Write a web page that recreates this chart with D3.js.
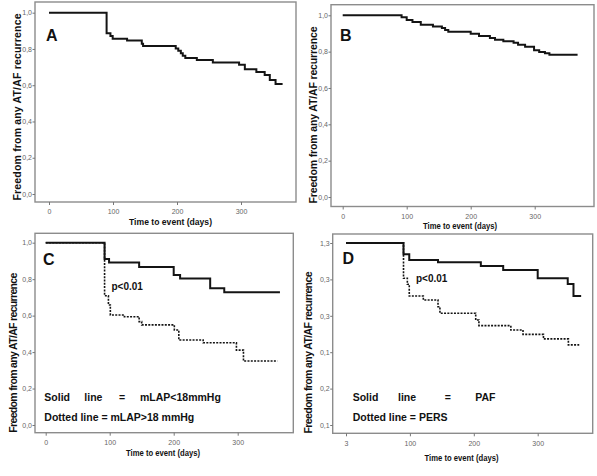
<!DOCTYPE html>
<html><head><meta charset="utf-8">
<script src="https://cdn.jsdelivr.net/npm/d3@7"></script>
<style>body{margin:0;background:#fff}svg{display:block}</style>
</head><body>
<svg id="c" width="597" height="476"></svg>
<script>
// ---- data ----
const yTickValues = [0, 0.2, 0.4, 0.6, 0.8, 1.0];
const yTickLabels = ["0,0", "0,2", "0,4", "0,6", "0,8", "1,0"];
const xTickValues = [0, 100, 200, 300];
const xTickLabels = ["0", "100", "200", "300"];
const dYTickLabels = ["0,1", "0,2", "0,1", "0,3", "0,3", "1,3"];
const dXTickLabels = ["3", "100", "200", "300"];

const aTimes = [0, 90, 96, 99.5, 122, 145, 147, 198, 202, 206, 209, 213, 231, 256, 297, 306, 324, 337, 345, 354, 365];
const aSurv  = [1, 0.886, 0.871, 0.857, 0.846, 0.829, 0.816, 0.803, 0.790, 0.777, 0.763, 0.750, 0.739, 0.726, 0.713, 0.688, 0.673, 0.656, 0.629, 0.607, 0.607];

const bTimes = [0, 92, 100, 109, 122, 141, 155, 160, 165, 200, 213, 230, 238, 251, 267, 274, 285, 299, 307, 316, 323, 367];
const bSurv  = [1, 0.989, 0.974, 0.963, 0.948, 0.939, 0.930, 0.919, 0.910, 0.899, 0.886, 0.875, 0.866, 0.857, 0.849, 0.838, 0.827, 0.807, 0.798, 0.791, 0.783, 0.783];

const cSolidTimes = [0, 92, 99, 146, 200, 210, 257, 279, 366];
const cSolidSurv  = [1, 0.911, 0.892, 0.867, 0.823, 0.803, 0.750, 0.728, 0.728];
const cDotTimes = [0, 92, 98, 101, 123, 146, 150, 201, 208, 246, 298, 309, 362];
const cDotSurv  = [1, 0.709, 0.658, 0.603, 0.594, 0.567, 0.549, 0.521, 0.466, 0.451, 0.411, 0.351, 0.351];

const dSolidTimes = [0, 90, 99, 144, 211, 246, 300, 347, 356, 368];
const dSolidSurv  = [1, 0.938, 0.907, 0.894, 0.874, 0.852, 0.806, 0.775, 0.709, 0.709];
const dDotTimes = [0, 90, 96, 99, 121, 144, 147, 203, 208, 258, 277, 309, 348, 365];
const dDotSurv  = [1, 0.806, 0.773, 0.709, 0.687, 0.650, 0.614, 0.577, 0.546, 0.522, 0.498, 0.473, 0.440, 0.440];

const yTitle = "Freedom from any AT/AF recurrence";
const xTitle = "Time to event (days)";

// ---- drawing ----
const svg = d3.select("#c");
const FONT = "'Liberation Sans', Arial, sans-serif";

function panel(p) {
  const g = svg.append("g");
  const x = d3.scaleLinear().domain([0, 300]).range([p.x0, p.x300]);
  const y = d3.scaleLinear().domain([0, 1]).range([p.y0, p.y1]);

  g.append("rect").attr("x", p.fl).attr("y", p.ft)
    .attr("width", p.fr - p.fl).attr("height", p.fb - p.ft)
    .attr("fill", "#fff").attr("stroke", "#8c8c8c").attr("stroke-width", 1.4);

  const yl = p.yLabels || yTickLabels;
  const ya = g.append("g").attr("transform", `translate(${p.fl},0)`)
    .call(d3.axisLeft(y).tickValues(yTickValues).tickSize(2.5).tickPadding(0.5)
      .tickFormat((d, i) => yl[i]));
  const xl = p.xLabels || xTickLabels;
  const xa = g.append("g").attr("transform", `translate(0,${p.fb})`)
    .call(d3.axisBottom(x).tickValues(xTickValues).tickSize(3).tickPadding(4.5)
      .tickFormat((d, i) => xl[i]));
  [ya, xa].forEach(a => {
    a.select(".domain").remove();
    a.selectAll("line").attr("stroke", "#777");
    a.selectAll("text").attr("fill", "#666").style("font", `7px ${FONT}`);
  });

  const line = d3.line().x(d => x(d[0])).y(d => y(d[1])).curve(d3.curveStepAfter);
  p.series.forEach(s => {
    g.append("path").datum(d3.zip(s.t, s.v)).attr("d", line)
      .attr("fill", "none").attr("stroke", "#141414")
      .attr("stroke-width", s.dot ? 1.6 : 2)
      .attr("stroke-dasharray", s.dot ? "2,1.3" : null);
  });

  g.append("text").attr("x", p.lx).attr("y", p.ly).text(p.letter)
    .style("font", `bold 16px ${FONT}`).attr("fill", "#111");

  g.append("text").attr("transform", `translate(${p.ytx},${p.yty}) rotate(-90)`)
    .attr("text-anchor", "middle").attr("textLength", p.ytl).attr("lengthAdjust", "spacing")
    .style("font", `bold 10.5px ${FONT}`).attr("fill", "#111").text(yTitle);

  g.append("text").attr("x", p.xtx).attr("y", p.xty).attr("text-anchor", "middle")
    .attr("textLength", p.xtl).attr("lengthAdjust", "spacingAndGlyphs")
    .style("font", `bold 9.5px ${FONT}`).attr("fill", "#111").text(xTitle);

  (p.texts || []).forEach(t => {
    g.append("text").attr("x", t.x).attr("y", t.y).text(t.s)
      .style("font", `bold ${t.fs || 10.5}px ${FONT}`).attr("fill", "#111");
  });
}

panel({
  fl: 35, fr: 296, ft: 2, fb: 202, x0: 49, x300: 241, y0: 194, y1: 12.7,
  series: [{ t: aTimes, v: aSurv }], letter: "A", lx: 46, ly: 41,
  ytx: 20.5, yty: 107, ytl: 187, xtx: 170.5, xty: 225, xtl: 83
});
panel({
  fl: 331, fr: 594, ft: 4.7, fb: 206.5, x0: 342.7, x300: 534.7, y0: 197, y1: 15.3,
  series: [{ t: bTimes, v: bSurv }], letter: "B", lx: 340, ly: 41,
  ytx: 316.5, yty: 115, ytl: 177, xtx: 460, xty: 228.5, xtl: 74
});
panel({
  fl: 35, fr: 293.3, ft: 233.3, fb: 432.7, x0: 45.7, x300: 237.7, y0: 425, y1: 242.7,
  series: [{ t: cSolidTimes, v: cSolidSurv }, { t: cDotTimes, v: cDotSurv, dot: true }],
  letter: "C", lx: 43, ly: 265,
  ytx: 17.3, yty: 352.7, ytl: 160, xtx: 163, xty: 455.5, xtl: 74,
  texts: [
    { x: 111.5, y: 289.5, s: "p<0.01", fs: 10 },
    { x: 44.3, y: 401, s: "Solid" }, { x: 84.3, y: 401, s: "line" },
    { x: 119, y: 401, s: "=" }, { x: 140, y: 401, s: "mLAP<18mmHg" },
    { x: 44.3, y: 420.5, s: "Dotted line = mLAP>18 mmHg" }
  ]
});
panel({
  fl: 332.7, fr: 592.7, ft: 234, fb: 433.3, x0: 346, x300: 537.7, y0: 425, y1: 243,
  series: [{ t: dSolidTimes, v: dSolidSurv }, { t: dDotTimes, v: dDotSurv, dot: true }],
  letter: "D", lx: 342.5, ly: 264, yLabels: dYTickLabels, xLabels: dXTickLabels,
  ytx: 312, yty: 352.5, ytl: 162, xtx: 461.5, xty: 460.5, xtl: 74,
  texts: [
    { x: 416, y: 282, s: "p<0.01", fs: 10 },
    { x: 352.7, y: 400.5, s: "Solid" }, { x: 398, y: 400.5, s: "line" },
    { x: 444.7, y: 400.5, s: "=" }, { x: 475.3, y: 400.5, s: "PAF" },
    { x: 352.7, y: 420.5, s: "Dotted line = PERS" }
  ]
});
</script>
</body></html>
